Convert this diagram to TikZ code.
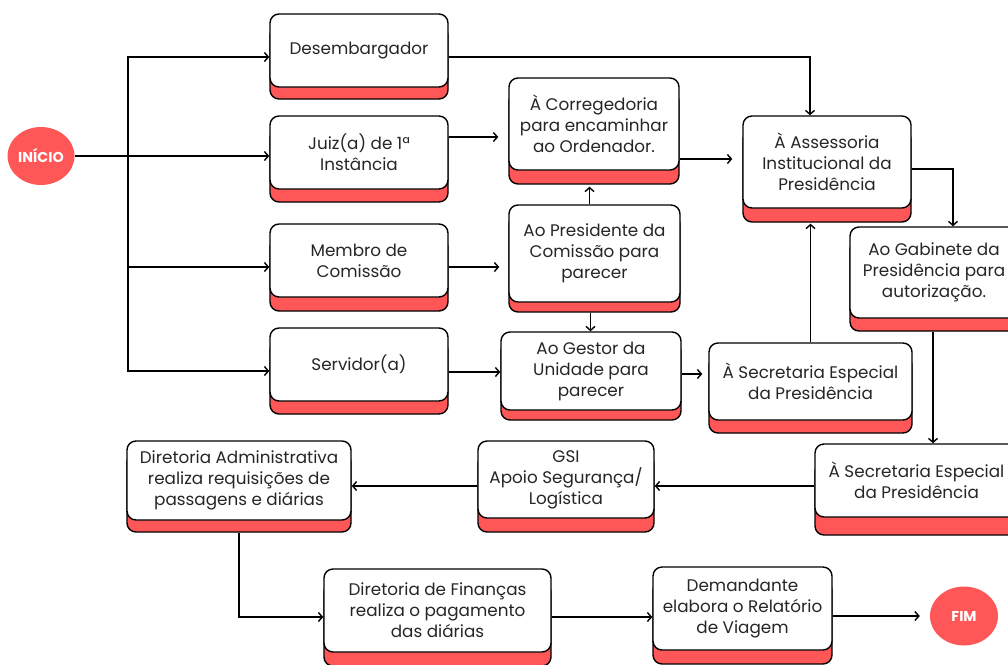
\documentclass[tikz,border=0pt]{standalone}
\usepackage{fontspec}
\setmainfont{Poppins}
\usetikzlibrary{arrows.meta,calc,shapes.geometric}
\definecolor{redc}{HTML}{FF5757}
\definecolor{ink}{HTML}{262626}

\begin{document}
\begin{tikzpicture}[x=1pt,y=-1pt,
  card/.style={draw, line width=1.4pt, rounded corners=9pt, fill=white, inner sep=0pt,
    align=center, text=ink, font=\fontsize{16.8}{21}\selectfont,
    preaction={draw, fill=redc, transform canvas={yshift=-#1}}},
  card/.default=13pt,
  endpt/.style={ellipse, inner sep=0pt, fill=redc, text=white, font=\bfseries\fontsize{14.3}{16}\selectfont},
  arr/.style={line width=1.4pt, -{Straight Barb[length=4pt,width=9pt]}}]
\useasboundingbox (0,0) rectangle (1008,664);
\clip (0,0) rectangle (1008,664);

\node [endpt, minimum width=67, minimum height=58] (inicio) at (41,156) {INÍCIO};
\node [endpt, minimum width=68, minimum height=59] (fim) at (964,616) {FIM};

\node [card=12pt, minimum width=178, minimum height=73] (desemb) at (359,50.5) {Desembargador};
\node [card=13pt, minimum width=178, minimum height=73] (juiz) at (359,152.5) {Juiz(a) de 1ª\\Instância};
\node [card=14pt, minimum width=178, minimum height=73] (membro) at (359,260.5) {Membro de\\Comissão};
\node [card=13pt, minimum width=178, minimum height=73] (servidor) at (359,364.5) {Servidor(a)};

\node [card=14pt, minimum width=170, minimum height=92] (correg) at (594,124) {À Corregedoria\\para encaminhar\\ao Ordenador.};
\node [card=10pt, minimum width=171, minimum height=97] (presid) at (594.5,253.5) {Ao Presidente da\\Comissão para\\parecer};
\node [card=10pt, minimum width=180, minimum height=78] (gestor) at (591,371) {Ao Gestor da\\Unidade para\\parecer};

\node [card=14pt, minimum width=168, minimum height=92] (assess) at (827,162) {À Assessoria\\Institucional da\\Presidência};
\node [card=13pt, minimum width=168, minimum height=91] (gabin) at (934,272.5) {Ao Gabinete da\\Presidência para\\autorização.};
\node [card=13pt, minimum width=203, minimum height=77] (sec1) at (810.5,381.5) {À Secretaria Especial\\da Presidência};
\node [card=18pt, minimum width=203, minimum height=73] (sec2) at (916.5,480.5) {À Secretaria Especial\\da Presidência};

\node [card=14pt, minimum width=176, minimum height=77] (gsi) at (566,479.5) {GSI\\Apoio Segurança/\\Logística};
\node [card=12pt, minimum width=224, minimum height=79] (admin) at (239,480.5) {Diretoria Administrativa\\realiza requisições de\\passagens e diárias};
\node [card=14pt, minimum width=227, minimum height=83] (financ) at (437.5,610.5) {Diretoria de Finanças\\realiza o pagamento\\das diárias};
\node [card=14pt, minimum width=179, minimum height=83] (demand) at (742.5,608.5) {Demandante\\elabora o Relatório\\de Viagem};

\coordinate (split) at (128,156);
\draw [arr] (inicio.east) -- (inicio.east -| juiz.west);
\draw [arr] (split) |- ([yshift=-6.5pt]desemb.west);
\draw [arr] (split) |- ([yshift=-6.5pt]membro.west);
\draw [arr] (split) |- ([yshift=-6.5pt]servidor.west);

\draw [arr, shorten >=10pt] ([yshift=15.5pt]juiz.east) -- ([yshift=15.5pt]juiz.east -| correg.west);
\draw [arr, shorten >=9pt] ([yshift=-6.5pt]membro.east) -- ([yshift=-6.5pt]membro.east -| presid.west);
\draw [arr] ([yshift=-7.5pt]servidor.east) -- ([yshift=-7.5pt]servidor.east -| gestor.west);
\draw [arr] ([xshift=-5pt]presid.north) -- ($([xshift=-5pt]presid.north |- correg.south)+(0,16)$);
\draw [arr] ($([xshift=-4pt]presid.south)+(0,10)$) -- ([xshift=-4pt]presid.south |- gestor.north);
\draw [arr, shorten >=6pt] ([yshift=-3pt]gestor.east) -- ([yshift=-3pt]gestor.east -| sec1.west);

\draw [arr] ([yshift=-6.5pt]desemb.east) -| ([xshift=-17pt]assess.north);
\draw [arr, shorten >=10pt] ([yshift=-35pt]correg.east) -- ([yshift=-35pt]correg.east -| assess.west);
\draw [arr] (sec1.north) -- ($(sec1.north |- assess.south)+(0,15)$);
\draw [arr] ([yshift=-7pt]assess.east) -| ([xshift=19pt]gabin.north);
\draw [arr] ($([xshift=-1pt]gabin.south)+(0,13)$) -- ([xshift=-1pt]gabin.south |- sec2.north);

\draw [arr] ([yshift=-5.5pt]sec2.west) -- ([yshift=-5.5pt]sec2.west -| gsi.east);
\draw [arr] ([yshift=-6.5pt]gsi.west) -- ([yshift=-6.5pt]gsi.west -| admin.east);
\draw [arr] ($(admin.south)+(0,12)$) |- ([yshift=-6.5pt]financ.west);
\draw [arr] ([yshift=-6.5pt]financ.east) -- ([yshift=-6.5pt]financ.east -| demand.west);
\draw [arr, shorten >=10pt] ([yshift=-7.5pt]demand.east) -- ([yshift=-7.5pt]demand.east -| fim.west);
\end{tikzpicture}
\end{document}
